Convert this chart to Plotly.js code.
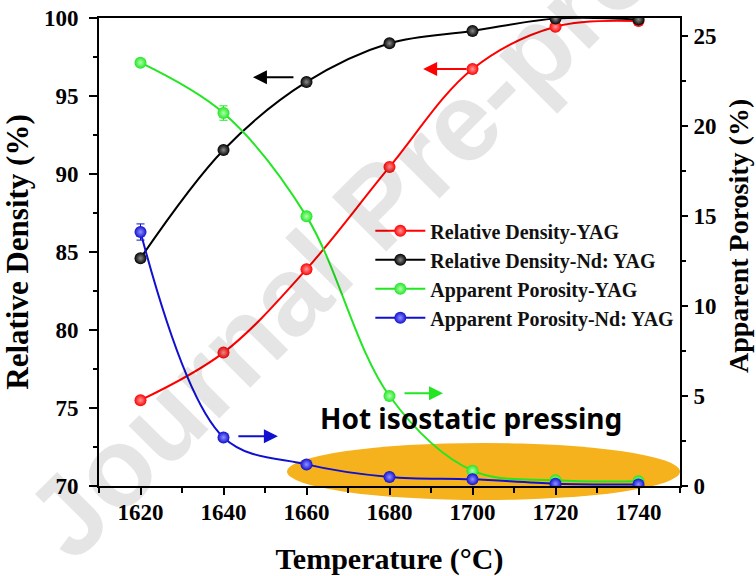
<!DOCTYPE html>
<html>
<head>
<meta charset="utf-8">
<script src="https://cdn.plot.ly/plotly-3.0.1.min.js"></script>
<style>html,body{margin:0;padding:0;background:#fff;}#chart{width:756px;height:576px;}</style>
</head>
<body>
<div id="chart"></div>
<script>
const temperature = [1620, 1640, 1660, 1680, 1700, 1720, 1740];
const relDensityYAG = [75.5, 78.55, 83.9, 90.45, 96.73, 99.44, 99.8];
const relDensityNdYAG = [84.6, 91.54, 95.9, 98.38, 99.17, 99.96, 99.9];
const porosityYAG = [23.52, 20.72, 14.98, 5.0, 0.85, 0.32, 0.26];
const porosityNdYAG = [14.11, 2.7, 1.2, 0.5, 0.37, 0.13, 0.09];
const porosityYAGErr = [0, 0.4, 0, 0, 0, 0, 0];
const porosityNdYAGErr = [0.45, 0, 0, 0, 0, 0, 0];
const seriesNames = ['Relative Density-YAG', 'Relative Density-Nd: YAG', 'Apparent Porosity-YAG', 'Apparent Porosity-Nd: YAG'];

const serif = 'Liberation Serif, Times New Roman, serif';

function trace(y, name, color, light, yaxis, err) {
  const t = {
    x: temperature, y: y, name: name, yaxis: yaxis,
    type: 'scatter', mode: 'lines+markers',
    line: {color: color, width: 2, shape: 'spline', smoothing: 1},
    marker: {color: color, size: 12, line: {width: 0},
             gradient: {type: 'radial', color: light}}
  };
  if (err) {
    t.error_y = {type: 'data', array: err, visible: true, color: color, thickness: 1, width: 4};
  }
  return t;
}

const data = [
  trace(relDensityYAG, seriesNames[0], '#ff0000', '#ff9a9a', 'y'),
  trace(relDensityNdYAG, seriesNames[1], '#000000', '#8a8a8a', 'y'),
  trace(porosityYAG, seriesNames[2], '#22e622', '#b0ffb0', 'y2', porosityYAGErr),
  trace(porosityNdYAG, seriesNames[3], '#1010d0', '#9090ff', 'y2', porosityNdYAGErr)
];

const tickFont = {family: serif, size: 23, color: '#000', weight: 'bold'};

const layout = {
  width: 756, height: 576,
  margin: {l: 99, r: 76, t: 18, b: 90, pad: 0},
  paper_bgcolor: '#fff', plot_bgcolor: 'rgba(0,0,0,0)',
  showlegend: true,
  legend: {
    x: 0.467, y: 0.587, xanchor: 'left', yanchor: 'top',
    bgcolor: 'rgba(0,0,0,0)', borderwidth: 0,
    font: {family: serif, size: 20, color: '#111', weight: 'bold'},
    itemwidth: 50, traceorder: 'normal'
  },
  xaxis: {
    range: [1610, 1750], dtick: 20, tick0: 1620,
    showgrid: false, zeroline: false,
    showline: true, linecolor: '#000', linewidth: 2, mirror: true,
    ticks: 'outside', ticklen: 7, tickwidth: 2, tickcolor: '#000',
    minor: {dtick: 10, ticks: 'outside', ticklen: 5, tickwidth: 2, tickcolor: '#000'},
    tickfont: tickFont, ticklabelstandoff: -3,
    title: {text: 'Temperature (°C)', font: {family: serif, size: 30, color: '#000', weight: 'bold'}, standoff: 24}
  },
  yaxis: {
    range: [70, 100], dtick: 5,
    showgrid: false, zeroline: false,
    showline: true, linecolor: '#000', linewidth: 2,
    ticks: 'outside', ticklen: 8, tickwidth: 2, tickcolor: '#000',
    minor: {dtick: 2.5, ticks: 'outside', ticklen: 4, tickwidth: 2, tickcolor: '#000'},
    tickfont: tickFont, ticklabelstandoff: 6,
    title: {text: 'Relative Density (%)', font: {family: serif, size: 31, color: '#000', weight: 'bold'}, standoff: 10}
  },
  yaxis2: {
    range: [0, 26], dtick: 5, overlaying: 'y', side: 'right',
    showgrid: false, zeroline: false,
    showline: true, linecolor: '#000', linewidth: 2,
    ticks: 'outside', ticklen: 6, tickwidth: 2, tickcolor: '#000',
    minor: {dtick: 2.5, ticks: 'outside', ticklen: 4, tickwidth: 2, tickcolor: '#000'},
    tickfont: tickFont, ticklabelstandoff: 1
  },
  shapes: [{
    type: 'circle', xref: 'paper', yref: 'paper', layer: 'below',
    x0: 0.3236, x1: 1.0, y0: -0.030, y1: 0.092,
    fillcolor: '#f5b21c', line: {width: 0}
  }],
  annotations: [
    {xref: 'paper', yref: 'paper', x: 1.0998, y: 0.534, xanchor: 'center', yanchor: 'middle',
     text: 'Apparent Porosity (%)', showarrow: false, textangle: -90,
     font: {family: serif, size: 28, color: '#000', weight: 'bold'}},
    {xref: 'paper', yref: 'paper', x: 0.64, y: 0.1453, xanchor: 'center', yanchor: 'middle',
     text: 'Hot isostatic pressing', showarrow: false,
     font: {family: 'Noto Sans, sans-serif', size: 28, color: '#000', weight: 'bold'}},
    {xref: 'x', yref: 'y', x: 1647.1, y: 96.2, ax: 42, ay: 0, text: '', showarrow: true,
     arrowhead: 2, arrowsize: 1.4, arrowwidth: 2, arrowcolor: '#000'},
    {xref: 'x', yref: 'y', x: 1688.1, y: 96.73, ax: 45, ay: 0, text: '', showarrow: true,
     arrowhead: 2, arrowsize: 1.4, arrowwidth: 2, arrowcolor: '#ff0000'},
    {xref: 'x', yref: 'y2', x: 1653.1, y: 2.76, ax: -41, ay: 0, text: '', showarrow: true,
     arrowhead: 2, arrowsize: 1.4, arrowwidth: 2, arrowcolor: '#1010d0'},
    {xref: 'x', yref: 'y2', x: 1692.9, y: 5.15, ax: -40, ay: 0, text: '', showarrow: true,
     arrowhead: 2, arrowsize: 1.4, arrowwidth: 2, arrowcolor: '#22e622'},
    {xref: 'paper', yref: 'paper', x: 0.48, y: 0.60, xanchor: 'center', yanchor: 'middle',
     text: 'Journal Pre-proof', showarrow: false, textangle: -45,
     font: {family: 'Liberation Sans, Arial, sans-serif', size: 112, color: 'rgba(0,0,0,0.10)', weight: 'bold'}}
  ]
};

Plotly.newPlot('chart', data, layout, {staticPlot: true, displayModeBar: false});
</script>
</body>
</html>
